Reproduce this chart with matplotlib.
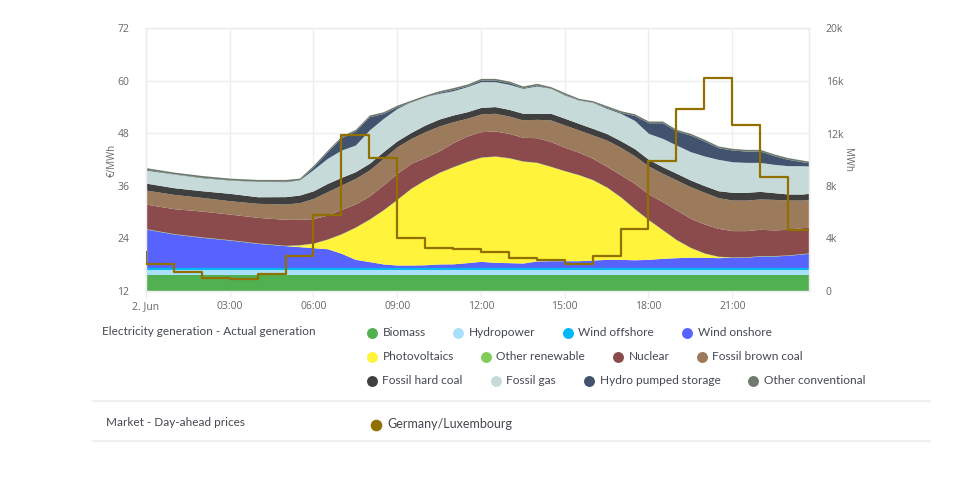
import matplotlib
matplotlib.use('Agg')
import matplotlib.pyplot as plt

plt.rcParams['font.family'] = ['Open Sans', 'DejaVu Sans']

# hourly until 05:00, then every half hour
hours = [0, 1, 2, 3, 4,
         5, 5.5, 6, 6.5, 7, 7.5, 8, 8.5, 9, 9.5, 10, 10.5, 11, 11.5,
         12, 12.5, 13, 13.5, 14, 14.5, 15, 15.5, 16, 16.5, 17, 17.5,
         18, 18.5, 19, 19.5, 20, 20.5, 21, 21.5, 22, 22.5, 23, 23.5, 23.75]

# upper edge of each stacked band in MW, bottom of the stack first
biomass_top = [1220] * 44
hydro_top = [1590] * 44
offshore_top = [1800] * 44
onshore_top = [4720, 4340, 4090, 3880, 3630,
               3450, 3380, 3300, 3220, 2870, 2410, 2240, 2060, 1980, 1980, 2000, 2060, 2070, 2160,
               2260, 2180, 2160, 2130, 2290, 2310, 2310, 2310, 2360, 2410, 2410, 2380,
               2410, 2490, 2540, 2570, 2570, 2540, 2570, 2570, 2670, 2670, 2720, 2820, 2870]
pv_top = [4720, 4340, 4090, 3880, 3630,
          3450, 3500, 3630, 3940, 4340, 4850, 5460, 6170, 6980, 7820, 8460, 9020, 9450, 9850,
          10180, 10260, 10130, 9880, 9780, 9470, 9140, 8840, 8460, 7900, 7150, 6250,
          5410, 4650, 3890, 3300, 2870, 2620, 2570, 2570, 2670, 2670, 2720, 2820, 2870]
renewable_top = [4750, 4370, 4120, 3910, 3660,
                 3480, 3530, 3660, 3970, 4370, 4880, 5490, 6200, 7010, 7850, 8490, 9050, 9480, 9880,
                 10210, 10290, 10160, 9910, 9810, 9500, 9170, 8870, 8490, 7930, 7180, 6280,
                 5440, 4680, 3920, 3330, 2900, 2650, 2600, 2600, 2700, 2700, 2750, 2850, 2900]
nuclear_top = [6620, 6270, 6090, 5860, 5610,
               5460, 5460, 5510, 5790, 6220, 6630, 7240, 8080, 8970, 9730, 10180, 10670, 11300, 11810,
               12140, 12190, 12010, 11710, 11680, 11380, 10950, 10570, 10110, 9500, 8850, 8200,
               7390, 6810, 6170, 5540, 5100, 4770, 4600, 4600, 4700, 4650, 4700, 4830, 4850]
brown_top = [7690, 7360, 7130, 6880, 6680,
             6630, 6730, 7060, 7570, 8080, 8580, 9220, 10110, 11000, 11630, 12140, 12570, 12900, 13160,
             13490, 13540, 13330, 13030, 13080, 13030, 12650, 12270, 11890, 11500, 10950, 10300,
             9520, 8970, 8460, 7950, 7520, 7110, 6930, 6930, 7010, 6980, 6930, 6930, 6980]
hard_top = [8220, 7870, 7640, 7440, 7180,
            7190, 7310, 7640, 8200, 8660, 9090, 9730, 10620, 11450, 12090, 12650, 13100, 13410, 13660,
            13990, 14050, 13840, 13540, 13540, 13540, 13160, 12770, 12390, 12000, 11450, 10850,
            10030, 9470, 8970, 8460, 8030, 7640, 7520, 7520, 7590, 7490, 7390, 7390, 7440]
gas_top = [9210, 8910, 8630, 8450, 8350,
           8330, 8460, 9270, 10110, 10740, 11120, 12270, 13150, 13920, 14430, 14810, 15060, 15260, 15570,
           15950, 15950, 15750, 15440, 15620, 15440, 14930, 14550, 14370, 13920, 13540, 13000,
           12010, 11630, 11120, 10620, 10290, 10030, 9850, 9800, 9800, 9650, 9550, 9550, 9520]
pumped_top = [9270, 8930, 8670, 8470, 8370,
              8370, 8470, 9470, 10610, 11680, 12190, 13280, 13530, 14040, 14420, 14800, 15130, 15370, 15640,
              16070, 16070, 15870, 15490, 15690, 15440, 14980, 14580, 14390, 13990, 13610, 13370,
              12820, 12820, 12190, 11880, 11430, 10920, 10740, 10660, 10660, 10310, 10030, 9850, 9770]
other_top = [9400, 9060, 8800, 8600, 8500,
             8500, 8600, 9600, 10740, 11810, 12320, 13410, 13660, 14170, 14550, 14930, 15260, 15500, 15770,
             16200, 16200, 16000, 15620, 15820, 15570, 15110, 14680, 14500, 14120, 13740, 13500,
             12950, 12950, 12320, 12010, 11560, 11050, 10870, 10790, 10790, 10440, 10160, 9980, 9900]

# day-ahead price in EUR/MWh, one value per hour
price_hours = [0, 1, 2, 3, 4, 5, 6, 7, 8, 9, 10, 11, 12, 13, 14, 15, 16, 17, 18, 19, 20, 21, 22, 23]
price_start = 21.0
price = [18.1, 16.3, 15.05, 14.74, 15.96, 20.0, 29.44, 47.64, 42.3, 24.1, 21.9, 21.5,
         21.0, 19.6, 19.1, 18.1, 20.07, 26.1, 41.7, 53.66, 60.74, 49.93, 38.0, 25.94]

names = ['Biomass', 'Hydropower', 'Wind offshore', 'Wind onshore', 'Photovoltaics',
         'Other renewable', 'Nuclear', 'Fossil brown coal', 'Fossil hard coal',
         'Fossil gas', 'Hydro pumped storage', 'Other conventional']
colors = ['#51b050', '#a8e0fb', '#00b7f7', '#5863fe', '#fff33b', '#82cc5c',
          '#8b4a4c', '#9b7b5b', '#3f3f3f', '#c6dbd9', '#41536f', '#6e7a6c']
price_color = '#917000'

time_ticks = [0, 3, 6, 9, 12, 15, 18, 21]
time_labels = ['2. Jun', '03:00', '06:00', '09:00', '12:00', '15:00', '18:00', '21:00']
grid_color = '#eeeef0'
text_color = '#666666'
label_color = '#44484f'

fig = plt.figure(figsize=(9.6, 5), dpi=100, facecolor='white')
ax_gen = fig.add_axes([146 / 960, 209 / 500, 663 / 960, 262.5 / 500])
ax_price = ax_gen.twinx()

edges = [biomass_top, hydro_top, offshore_top, onshore_top, pv_top, renewable_top,
         nuclear_top, brown_top, hard_top, gas_top, pumped_top, other_top]
lower = [0] * len(hours)
for upper, color in zip(edges, colors):
    ax_gen.fill_between(hours, lower, upper, color=color, linewidth=0, zorder=3)
    lower = upper

ax_gen.set_xlim(0, 23.75)
ax_gen.set_ylim(0, 20000)
ax_gen.set_yticks([0, 4000, 8000, 12000, 16000, 20000])
ax_gen.set_yticklabels(['0', '4k', '8k', '12k', '16k', '20k'])
ax_gen.set_xticks(time_ticks)
ax_gen.set_xticklabels(time_labels)
ax_gen.grid(True, color=grid_color, linewidth=1, zorder=0)
ax_gen.set_axisbelow(True)
ax_gen.yaxis.tick_right()
ax_gen.tick_params(axis='y', length=0, pad=12, labelsize=7.5, labelcolor=text_color)
ax_gen.tick_params(axis='x', length=5, width=1, color=grid_color, pad=2, labelsize=7.5,
                   labelcolor=text_color)

# step line, the first point sits at the left edge with the previous hour's price
step_x = [0] + price_hours + [23.75]
step_y = [price_start] + price + [price[-1]]
ax_price.step(step_x, step_y, where='post', color=price_color, linewidth=1.6, zorder=5)
ax_price.set_ylim(12, 72)
ax_price.set_yticks([12, 24, 36, 48, 60, 72])
ax_price.yaxis.tick_left()
ax_price.tick_params(axis='y', length=0, pad=12, labelsize=7.5, labelcolor=text_color)

for a in (ax_gen, ax_price):
    for s in a.spines.values():
        s.set_color(grid_color)
        s.set_linewidth(1)

# overlay in pixels for the legend block below the chart
ov = fig.add_axes([0, 0, 1, 1])
ov.set_xlim(0, 960)
ov.set_ylim(500, 0)
ov.axis('off')
ov.patch.set_alpha(0)

ov.text(112, 160, '€/MWh', rotation=90, ha='center', va='center', fontsize=7, color=text_color)
ov.text(848, 160, 'MWh', rotation=270, ha='center', va='center', fontsize=7, color=text_color)

marker_x = [372, 458, 568, 687, 372, 486, 618, 702, 372, 496, 589, 753]
marker_y = [333] * 4 + [357] * 4 + [381] * 4
legend_font = 'Lato'
for name, color, mx, my in zip(names, colors, marker_x, marker_y):
    ov.scatter([mx], [my], s=62, color=color, linewidths=0)
    ov.text(mx + 10.5, my - 0.5, name, fontsize=8.6, family=legend_font, color=label_color, va='center')

ov.text(101.5, 331.5, 'Electricity generation - Actual generation', fontsize=8.5,
        family=legend_font, color=label_color, va='center')
ov.text(106, 422, 'Market - Day-ahead prices', fontsize=8.5, family=legend_font,
        color=label_color, va='center')
ov.scatter([376], [424.5], s=70, color=price_color, linewidths=0)
ov.text(387.5, 424, 'Germany/Luxembourg', fontsize=9, family=legend_font,
        color=label_color, va='center')

ov.plot([93, 930], [401, 401], color='#f0f0f0', linewidth=1.5)
ov.plot([93, 930], [441, 441], color='#f0f0f0', linewidth=1.5)

fig.savefig('out.png', dpi=100)
